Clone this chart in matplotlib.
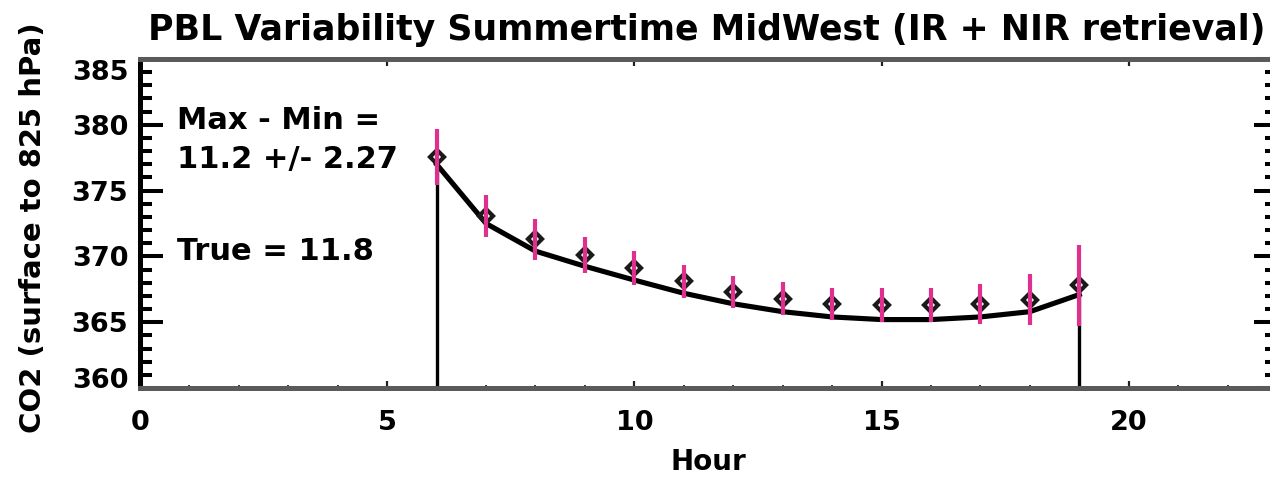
import numpy as np
import matplotlib
matplotlib.use('Agg')
import matplotlib.pyplot as plt
from matplotlib.ticker import MultipleLocator
from matplotlib.transforms import ScaledTranslation

# hourly PBL CO2, summertime MidWest
hours = [6, 7, 8, 9, 10, 11, 12, 13, 14, 15, 16, 17, 18, 19]
true_co2 = [377.0, 372.5, 370.4, 369.25, 368.2, 367.2, 366.4,
            365.8, 365.4, 365.2, 365.2, 365.4, 365.8, 367.1]
retr_co2 = [377.55, 373.05, 371.3, 370.1, 369.1, 368.1, 367.3,
            366.8, 366.4, 366.3, 366.3, 366.4, 366.7, 367.8]
retr_err = [2.1, 1.6, 1.55, 1.35, 1.3, 1.25, 1.2,
            1.27, 1.2, 1.3, 1.3, 1.5, 1.95, 3.1]

retr_range = '11.2'
retr_range_err = '2.27'
true_range = '11.8'

plt.rcParams['font.family'] = ['DejaVu Sans']
plt.rcParams['font.weight'] = 'bold'

W, H = 1270, 478
fig = plt.figure(figsize=(W / 100, H / 100), dpi=100)
# plot box runs past the right edge, like the original IDL output
ax = fig.add_axes([140 / W, 90 / H, 1137 / W, 329 / H])

ax.set_xlim(0, 23)
ax.set_ylim(360, 385)
ymin = ax.get_ylim()[0]

# curve with drop lines at both ends
ax.vlines([hours[0], hours[-1]], ymin, [true_co2[0], true_co2[-1]],
          color='k', lw=2.4, zorder=2)
ax.plot(hours, true_co2, color='k', lw=3.7, zorder=3)
ax.plot(hours, retr_co2, linestyle='none', marker='D', ms=7.5,
        mfc='none', mec='#1a1a1a', mew=3.0, zorder=4)
ax.errorbar(hours, retr_co2, yerr=retr_err, fmt='none', ecolor='#e0308f',
            elinewidth=3.0, capsize=0, zorder=5)

ax.text(0.75, 379.7, 'Max - Min =', fontsize=22, fontweight='bold')
ax.text(0.75, 376.75, retr_range + ' +/- ' + retr_range_err,
        fontsize=22, fontweight='bold')
ax.text(0.75, 369.7, 'True = ' + true_range, fontsize=22, fontweight='bold')

ax.set_xticks([0, 5, 10, 15, 20])
ax.xaxis.set_minor_locator(MultipleLocator(1))
ax.set_yticks([360, 365, 370, 375, 380, 385])
ax.yaxis.set_minor_locator(MultipleLocator(1))

ax.tick_params(which='both', direction='in', top=True, right=True,
               labelsize=19.5)
ax.tick_params(axis='x', which='major', length=4.8, width=1.6, pad=16,
               color='#222222')
ax.tick_params(axis='x', which='minor', length=2.4, width=1.4,
               color='#333333')
ax.tick_params(axis='y', which='major', length=16.5, width=2.9, pad=8.5)
ax.tick_params(axis='y', which='minor', length=8.5, width=2.9)

for side in ['top', 'bottom']:
    ax.spines[side].set_color('#5a5a5a')
    ax.spines[side].set_linewidth(3.6)
for side in ['left', 'right']:
    ax.spines[side].set_color('k')
    ax.spines[side].set_linewidth(3.6)

# nudge the end labels inside the box
ylabels = ax.get_yticklabels()
ylabels[0].set_transform(ylabels[0].get_transform() +
                         ScaledTranslation(0, 10 / 100, fig.dpi_scale_trans))
ylabels[-1].set_transform(ylabels[-1].get_transform() +
                          ScaledTranslation(0, -11 / 100, fig.dpi_scale_trans))

fig.text(148 / W, (H - 40) / H,
         'PBL Variability Summertime MidWest (IR + NIR retrieval)',
         fontsize=25, fontweight='bold', ha='left', va='baseline')
fig.text(33 / W, (H - 228) / H, 'CO2 (surface to 825 hPa)', rotation=90,
         fontsize=21, fontweight='bold', ha='center', va='center')
fig.text(708 / W, 8 / H, 'Hour', fontsize=20, fontweight='bold',
         ha='center', va='baseline')

fig.savefig('out.png', dpi=100)
